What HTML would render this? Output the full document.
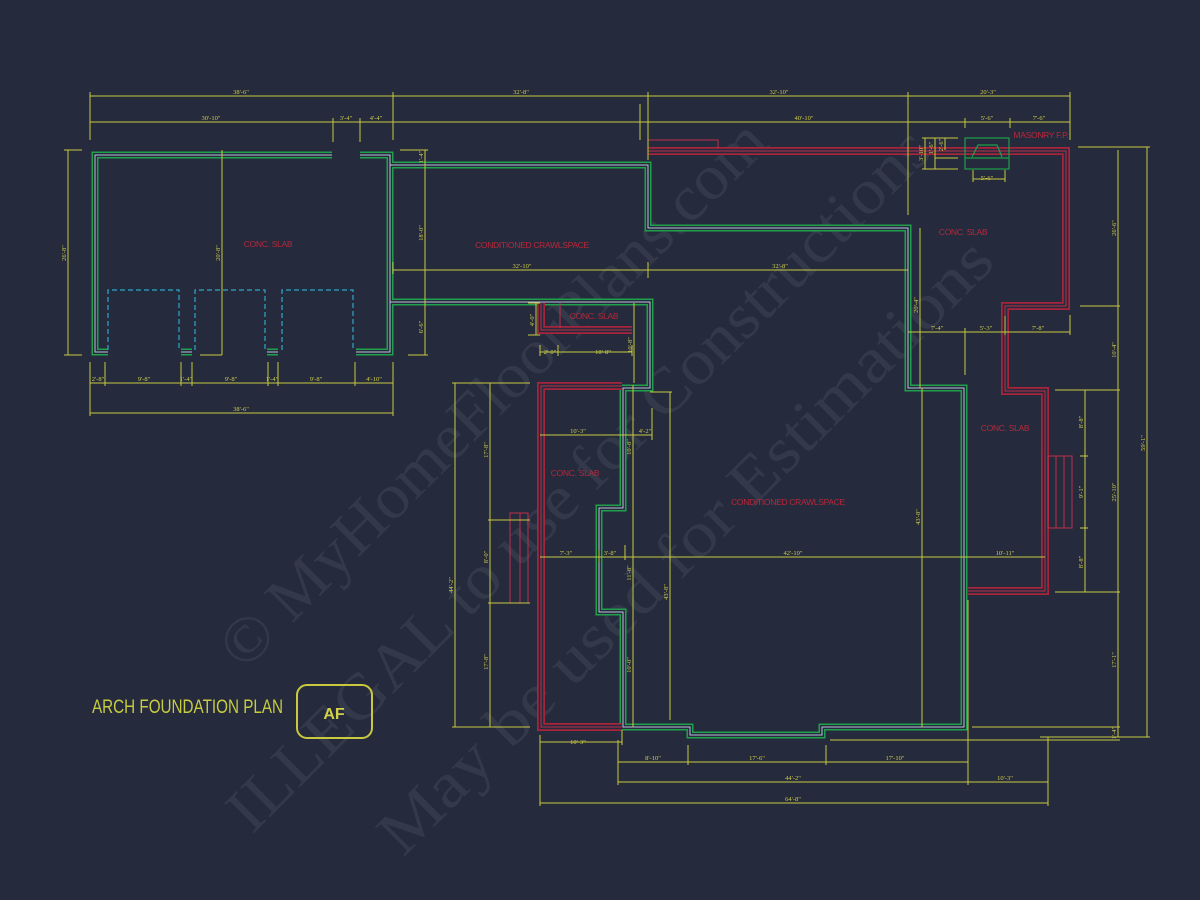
<!DOCTYPE html>
<html><head><meta charset="utf-8"><style>
html,body{margin:0;padding:0;background:#252a3d;}
svg{display:block}
.d{stroke:#c9c93e;stroke-width:1;fill:none}
.t{fill:#cfcf48;font-family:"Liberation Serif",serif;font-size:6.5px;text-anchor:middle}
.r{fill:#b8283a;font-family:"Liberation Sans",sans-serif;font-size:8.5px;text-anchor:middle;letter-spacing:-0.3px}
.wm{fill:#ffffff;fill-opacity:0.07;font-family:"Liberation Serif",serif;font-size:64px}
</style></head><body>
<svg width="1200" height="900" viewBox="0 0 1200 900" xmlns="http://www.w3.org/2000/svg">
<rect width="1200" height="900" fill="#252a3d"/>

<!-- watermark -->
<g class="wm">
<text transform="translate(244,672) rotate(-45)" textLength="745" lengthAdjust="spacingAndGlyphs">© MyHomeFloorPlans.com</text>
<text transform="translate(252,835) rotate(-45)" textLength="965" lengthAdjust="spacingAndGlyphs">ILLEGAL to use for Constructions</text>
<text transform="translate(403,858) rotate(-45)" textLength="840" lengthAdjust="spacingAndGlyphs">May be used for Estimations</text>
</g>

<!-- GREEN WALLS -->
<g fill="none" stroke-linejoin="miter">
<g stroke="#1fa04a" stroke-width="7">
<polyline points="108,352 95,352 95,155 332,155"/>
<polyline points="360,155 390,155 390,352 356,352"/>
<polyline points="181,352 192,352"/>
<polyline points="267,352 278,352"/>
<polyline points="390,165 648,165 648,228 908,228 908,388 964,388 964,727 822,727 822,735 690,735 690,727 623,727 623,612 599,612 599,508 623,508 623,388 650,388 650,302 390,302"/>
</g>
<g stroke="#252a3d" stroke-width="4">
<polyline points="108,352 95,352 95,155 332,155"/>
<polyline points="360,155 390,155 390,352 356,352"/>
<polyline points="181,352 192,352"/>
<polyline points="267,352 278,352"/>
<polyline points="390,165 648,165 648,228 908,228 908,388 964,388 964,727 822,727 822,735 690,735 690,727 623,727 623,612 599,612 599,508 623,508 623,388 650,388 650,302 390,302"/>
</g>
<g stroke="#b7c6d6" stroke-width="1">
<polyline points="108,352 95,352 95,155 332,155"/>
<polyline points="360,155 390,155 390,352 356,352"/>
<polyline points="181,352 192,352"/>
<polyline points="267,352 278,352"/>
<polyline points="390,165 648,165 648,228 908,228 908,388 964,388 964,727 822,727 822,735 690,735 690,727 623,727 623,612 599,612 599,508 623,508 623,388 650,388 650,302 390,302"/>
</g>
</g>

<!-- garage doors dashed -->
<g fill="none" stroke="#2fa8c8" stroke-width="1.2" stroke-dasharray="5,3">
<polyline points="108,350 108,290 179,290 179,350"/>
<polyline points="195,350 195,290 265,290 265,350"/>
<polyline points="282,350 282,290 353,290 353,350"/>
</g>

<!-- RED WALLS -->
<g fill="none">
<g stroke="#a8243a" stroke-width="8">
<polyline points="648,151 1066,151 1066,306 1005,306 1005,391 1045,391 1045,591 968,591"/>
<polyline points="622,386 541,386 541,727 622,727"/>
<polyline points="541,303 541,330 632,330"/>
</g>
<g stroke="#252a3d" stroke-width="4.5">
<polyline points="648,151 1066,151 1066,306 1005,306 1005,391 1045,391 1045,591 968,591"/>
<polyline points="622,386 541,386 541,727 622,727"/>
<polyline points="541,303 541,330 632,330"/>
</g>
<g stroke="#c0304a" stroke-width="1">
<polyline points="648,151 1066,151 1066,306 1005,306 1005,391 1045,391 1045,591 968,591"/>
<polyline points="622,386 541,386 541,727 622,727"/>
<polyline points="541,303 541,330 632,330"/>
<polyline points="648,140 718,140 718,148"/>
<line x1="560" y1="303" x2="560" y2="328"/>
<rect x="510" y="513" width="18" height="90"/>
<line x1="520" y1="513" x2="520" y2="603"/>
<rect x="1048" y="456" width="24" height="72"/>
<line x1="1056" y1="456" x2="1056" y2="528"/>
<line x1="1064" y1="456" x2="1064" y2="528"/>
</g>
</g>

<!-- fireplace -->
<g fill="none" stroke="#1fa04a" stroke-width="1.2">
<rect x="965" y="138" width="44" height="31"/>
<line x1="965" y1="158" x2="1009" y2="158"/>
<path d="M972,157 L978,145 L997,145 L1002,157"/>
</g>

<!-- DIMENSIONS -->
<g class="d">
<line x1="90" y1="96" x2="1070" y2="96"/>
<line x1="90" y1="122" x2="1070" y2="122"/>
<line x1="90" y1="92" x2="90" y2="140"/><line x1="393" y1="92" x2="393" y2="140"/>
<line x1="648" y1="92" x2="648" y2="160"/><line x1="908" y1="92" x2="908" y2="215"/>
<line x1="1070" y1="92" x2="1070" y2="140"/>
<line x1="333" y1="118" x2="333" y2="142"/><line x1="360" y1="118" x2="360" y2="142"/>
<line x1="640" y1="104" x2="640" y2="140"/><line x1="965" y1="118" x2="965" y2="128"/><line x1="1010" y1="118" x2="1010" y2="128"/>
<line x1="68" y1="150" x2="68" y2="355"/><line x1="64" y1="150" x2="82" y2="150"/><line x1="64" y1="355" x2="82" y2="355"/>
<line x1="222" y1="150" x2="222" y2="355"/><line x1="200" y1="355" x2="222" y2="355"/>
<line x1="90" y1="383" x2="393" y2="383"/><line x1="90" y1="413" x2="393" y2="413"/>
<line x1="90" y1="362" x2="90" y2="416"/><line x1="105" y1="362" x2="105" y2="386"/><line x1="181" y1="362" x2="181" y2="386"/><line x1="192" y1="362" x2="192" y2="386"/><line x1="268" y1="362" x2="268" y2="386"/><line x1="278" y1="362" x2="278" y2="386"/><line x1="355" y1="362" x2="355" y2="386"/><line x1="393" y1="362" x2="393" y2="416"/>
<line x1="425" y1="150" x2="425" y2="355"/><line x1="400" y1="150" x2="428" y2="150"/><line x1="408" y1="355" x2="428" y2="355"/>
<line x1="393" y1="270" x2="908" y2="270"/><line x1="393" y1="262" x2="393" y2="274"/><line x1="648" y1="262" x2="648" y2="278"/>
<line x1="536" y1="303" x2="536" y2="335"/><line x1="528" y1="303" x2="540" y2="303"/><line x1="528" y1="335" x2="540" y2="335"/>
<line x1="540" y1="352" x2="632" y2="352"/><line x1="540" y1="345" x2="540" y2="356"/><line x1="558" y1="345" x2="558" y2="356"/><line x1="632" y1="345" x2="632" y2="356"/>
<line x1="634" y1="303" x2="634" y2="383"/>
<line x1="455" y1="383" x2="455" y2="727"/><line x1="452" y1="383" x2="530" y2="383"/><line x1="452" y1="727" x2="530" y2="727"/>
<line x1="490" y1="383" x2="490" y2="727"/><line x1="488" y1="520" x2="530" y2="520"/><line x1="488" y1="603" x2="530" y2="603"/>
<line x1="540" y1="435" x2="652" y2="435"/><line x1="652" y1="408" x2="652" y2="440"/>
<line x1="633" y1="385" x2="633" y2="727"/>
<line x1="670" y1="392" x2="670" y2="720"/><line x1="650" y1="392" x2="672" y2="392"/>
<line x1="540" y1="557" x2="1045" y2="557"/><line x1="625" y1="545" x2="625" y2="560"/><line x1="599" y1="550" x2="599" y2="562"/>
<line x1="540" y1="742" x2="622" y2="742"/><line x1="540" y1="735" x2="540" y2="806"/><line x1="622" y1="730" x2="622" y2="745"/>
<line x1="618" y1="762" x2="968" y2="762"/><line x1="618" y1="782" x2="1048" y2="782"/><line x1="540" y1="803" x2="1048" y2="803"/>
<line x1="618" y1="740" x2="618" y2="785"/><line x1="688" y1="745" x2="688" y2="765"/><line x1="826" y1="745" x2="826" y2="765"/>
<line x1="968" y1="737" x2="968" y2="785"/><line x1="1048" y1="737" x2="1048" y2="806"/>
<line x1="830" y1="740" x2="1120" y2="740"/>
<line x1="920" y1="228" x2="920" y2="388"/><line x1="922" y1="388" x2="922" y2="727"/>
<line x1="908" y1="332" x2="1070" y2="332"/><line x1="965" y1="328" x2="965" y2="375"/><line x1="1005" y1="316" x2="1005" y2="335"/><line x1="1070" y1="315" x2="1070" y2="335"/>
<line x1="1085" y1="390" x2="1085" y2="592"/><line x1="1080" y1="456" x2="1088" y2="456"/><line x1="1080" y1="528" x2="1088" y2="528"/>
<line x1="1118" y1="150" x2="1118" y2="737"/><line x1="1147" y1="147" x2="1147" y2="737"/>
<line x1="1078" y1="147" x2="1150" y2="147"/><line x1="1080" y1="306" x2="1120" y2="306"/>
<line x1="1055" y1="390" x2="1120" y2="390"/><line x1="1055" y1="592" x2="1120" y2="592"/>
<line x1="972" y1="727" x2="1120" y2="727"/><line x1="1040" y1="737" x2="1150" y2="737"/>
<line x1="968" y1="600" x2="968" y2="740"/>
<line x1="925" y1="138" x2="925" y2="169"/><line x1="935" y1="138" x2="935" y2="169"/><line x1="945" y1="138" x2="945" y2="150"/>
<line x1="922" y1="138" x2="958" y2="138"/><line x1="922" y1="169" x2="958" y2="169"/><line x1="935" y1="158" x2="958" y2="158"/>
<line x1="973" y1="179" x2="1005" y2="179"/><line x1="973" y1="170" x2="973" y2="182"/><line x1="1005" y1="170" x2="1005" y2="182"/>
</g>

<g class="t">
<text x="241" y="94">38'-6"</text><text x="521" y="94">32'-8"</text><text x="779" y="94">32'-10"</text><text x="988" y="94">20'-3"</text>
<text x="211" y="120">30'-10"</text><text x="346" y="120">3'-4"</text><text x="376" y="120">4'-4"</text><text x="804" y="120">40'-10"</text><text x="987" y="120">5'-6"</text><text x="1039" y="120">7'-6"</text>
<text x="98" y="381">2'-8"</text><text x="144" y="381">9'-8"</text><text x="186" y="381">1'-4"</text><text x="231" y="381">9'-8"</text><text x="272" y="381">1'-4"</text><text x="316" y="381">9'-8"</text><text x="374" y="381">4'-10"</text>
<text x="241" y="411">38'-6"</text>
<text x="522" y="268">32'-10"</text><text x="780" y="268">32'-8"</text>
<text x="937" y="330">7'-4"</text><text x="986" y="330">5'-3"</text><text x="1038" y="330">7'-8"</text>
<text x="550" y="354">2'-0"</text><text x="603" y="354">10'-8"</text>
<text x="578" y="433">10'-3"</text><text x="645" y="433">4'-2"</text>
<text x="566" y="555">7'-3"</text><text x="610" y="555">3'-8"</text><text x="793" y="555">42'-10"</text><text x="1005" y="555">10'-11"</text>
<text x="578" y="744">10'-3"</text>
<text x="653" y="760">8'-10"</text><text x="757" y="760">17'-6"</text><text x="895" y="760">17'-10"</text>
<text x="793" y="780">44'-2"</text><text x="1005" y="780">10'-3"</text>
<text x="793" y="801">64'-8"</text>
<text x="987" y="180">5'-6"</text>
<text transform="translate(66,253) rotate(-90)">26'-8"</text>
<text transform="translate(220,253) rotate(-90)">20'-8"</text>
<text transform="translate(423,157) rotate(-90)">1'-4"</text>
<text transform="translate(423,233) rotate(-90)">18'-0"</text>
<text transform="translate(423,327) rotate(-90)">6'-6"</text>
<text transform="translate(534,320) rotate(-90)">4'-0"</text>
<text transform="translate(632,345) rotate(-90)">10'-8"</text>
<text transform="translate(453,585) rotate(-90)">44'-2"</text>
<text transform="translate(488,450) rotate(-90)">17'-8"</text>
<text transform="translate(488,557) rotate(-90)">8'-0"</text>
<text transform="translate(488,662) rotate(-90)">17'-8"</text>
<text transform="translate(631,447) rotate(-90)">10'-8"</text>
<text transform="translate(631,573) rotate(-90)">11'-8"</text>
<text transform="translate(631,665) rotate(-90)">10'-0"</text>
<text transform="translate(668,592) rotate(-90)">43'-8"</text>
<text transform="translate(918,305) rotate(-90)">20'-4"</text>
<text transform="translate(920,517) rotate(-90)">43'-8"</text>
<text transform="translate(1083,422) rotate(-90)">8'-8"</text>
<text transform="translate(1083,492) rotate(-90)">9'-1"</text>
<text transform="translate(1083,562) rotate(-90)">8'-8"</text>
<text transform="translate(1116,228) rotate(-90)">26'-6"</text>
<text transform="translate(1116,350) rotate(-90)">10'-4"</text>
<text transform="translate(1116,492) rotate(-90)">25'-10"</text>
<text transform="translate(1116,660) rotate(-90)">17'-1"</text>
<text transform="translate(1116,733) rotate(-90)">1'-4"</text>
<text transform="translate(1145,443) rotate(-90)">59'-1"</text>
<text transform="translate(923,153) rotate(-90)">3'-10"</text>
<text transform="translate(933,148) rotate(-90)">1'-6"</text>
<text transform="translate(943,145) rotate(-90)">2'-6"</text>
</g>

<g class="r">
<text x="268" y="247">CONC. SLAB</text>
<text x="532" y="248">CONDITIONED CRAWLSPACE</text>
<text x="594" y="319">CONC. SLAB</text>
<text x="575" y="476">CONC. SLAB</text>
<text x="963" y="235">CONC. SLAB</text>
<text x="1005" y="431">CONC. SLAB</text>
<text x="788" y="505">CONDITIONED CRAWLSPACE</text>
<text x="1041" y="138">MASONRY F.P.</text>
</g>

<text x="92" y="713" fill="#c8cc40" font-family="Liberation Sans, sans-serif" font-size="19" textLength="191" lengthAdjust="spacingAndGlyphs">ARCH FOUNDATION PLAN</text>
<rect x="297" y="685" width="75" height="53" rx="10" fill="none" stroke="#c9c93e" stroke-width="2"/>
<text x="334" y="719" fill="#d2d248" font-family="Liberation Sans, sans-serif" font-size="16" font-weight="bold" text-anchor="middle">AF</text>
</svg>
</body></html>
